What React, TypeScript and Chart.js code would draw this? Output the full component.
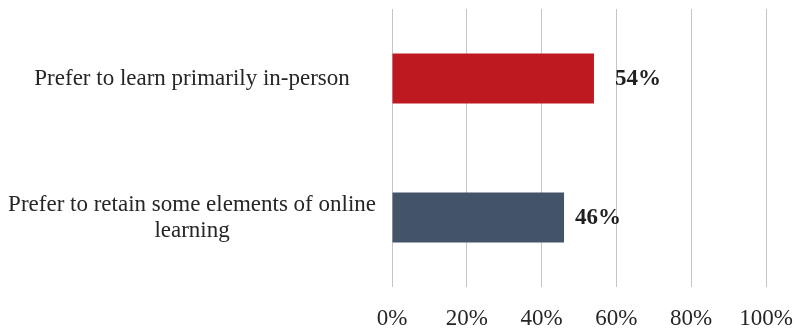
import React, { useEffect, useRef } from "react";
import { Chart, registerables } from "chart.js";

Chart.register(...registerables);

const categories: (string | string[])[] = [
  "Prefer to learn primarily in-person",
  ["Prefer to retain some elements of online", "learning"],
];
const values: number[] = [54, 46];
const xTicks: number[] = [0, 20, 40, 60, 80, 100];

const FONT = "'Liberation Serif', 'Times New Roman', serif";
const barColors = ["#BE1820", "#435468"];
const labelOffsets = [21, 11];

const valueLabels = {
  id: "valueLabels",
  afterDatasetsDraw(chart: any) {
    const ctx = chart.ctx;
    const meta = chart.getDatasetMeta(0);
    ctx.save();
    ctx.font = `bold 23px ${FONT}`;
    ctx.fillStyle = "#1f1f1f";
    ctx.textAlign = "left";
    ctx.textBaseline = "middle";
    meta.data.forEach((el: any, i: number) => {
      ctx.fillText(`${values[i]}%`, el.x + labelOffsets[i], el.y + 1);
    });
    ctx.restore();
  },
};

export default function App() {
  const ref = useRef<HTMLCanvasElement | null>(null);
  useEffect(() => {
    document.body.style.margin = "0";
    const chart = new Chart(ref.current as HTMLCanvasElement, {
      type: "bar",
      data: {
        labels: categories,
        datasets: [
          {
            data: values,
            backgroundColor: barColors,
            borderWidth: 0,
            barPercentage: 0.36,
            categoryPercentage: 1,
          },
        ],
      },
      options: {
        indexAxis: "y",
        animation: false,
        responsive: false,
        maintainAspectRatio: false,
        layout: { padding: { top: 9, right: 31, left: 0, bottom: 0 } },
        plugins: {
          legend: { display: false },
          tooltip: { enabled: false },
        },
        scales: {
          x: {
            min: 0,
            max: 100,
            afterBuildTicks(scale: any) {
              scale.ticks = xTicks.map((v) => ({ value: v }));
            },
            grid: {
              color: "#c4c4c4",
              lineWidth: 1,
              drawTicks: false,
            },
            border: { display: false },
            ticks: {
              padding: 18,
              color: "#262626",
              font: { family: FONT, size: 23 },
              callback: (v: any) => `${v}%`,
              maxRotation: 0,
            },
            afterFit(scale: any) {
              scale.height = 43;
              scale.paddingLeft = 0;
              scale.paddingRight = 0;
              scale.paddingTop = 0;
              scale.paddingBottom = 0;
            },
          },
          y: {
            grid: { display: false, drawTicks: false },
            border: { display: false },
            ticks: {
              crossAlign: "center",
              padding: 16,
              color: "#262626",
              font: { family: FONT, size: 23, lineHeight: 1.13 },
            },
            afterFit(scale: any) {
              scale.width = 392;
              scale.paddingLeft = 0;
              scale.paddingRight = 0;
              scale.paddingTop = 0;
              scale.paddingBottom = 0;
            },
          },
        },
      },
      plugins: [valueLabels],
    });
    return () => chart.destroy();
  }, []);
  return (
    <div style={{ width: 797, height: 330 }}>
      <canvas ref={ref} width={797} height={330} style={{ display: "block" }} />
    </div>
  );
}
